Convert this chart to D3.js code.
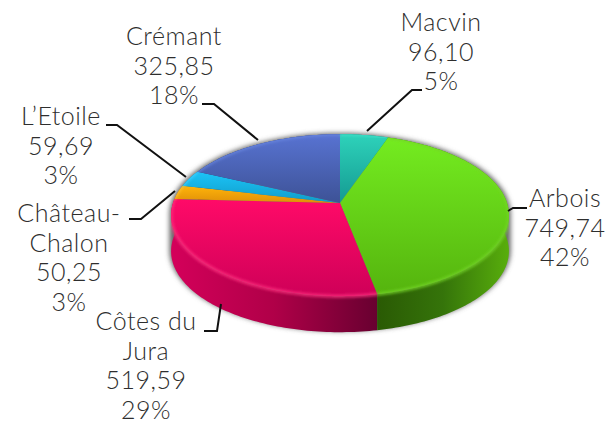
<!DOCTYPE html>
<html>
<head>
<meta charset="utf-8">
<script src="https://cdn.jsdelivr.net/npm/d3@7"></script>
<style>
  html, body { margin: 0; padding: 0; background: #fff; }
  svg { display: block; }
  text { font-family: "Lato", sans-serif; font-size: 25px; font-weight: 300; letter-spacing: 0.5px; fill: #2e2e2e; text-anchor: middle; }
</style>
</head>
<body>
<div id="chart"></div>
<script>
// values, clockwise from 12 o'clock
const names = ["Macvin", "Arbois", "Côtes du Jura", "Château-Chalon", "L'Etoile", "Crémant"];
const values = [96.10, 749.74, 519.59, 50.25, 59.69, 325.85];
const valueLabels = ["96,10", "749,74", "519,59", "50,25", "59,69", "325,85"];
const percentLabels = ["5%", "42%", "29%", "3%", "3%", "18%"];
const nameLines = [["Macvin"], ["Arbois"], ["Côtes du", "Jura"], ["Château-", "Chalon"], ["L’Etoile"], ["Crémant"]];

// colours per slice: top face from/to, side wall stops
const faceTop = ["#2ed2ba", "#74ec20", "#ff0a68", "#ffb40a", "#1cc4f8", "#5873d2"];
const faceBottom = ["#149a92", "#55b40e", "#cf0058", "#e09008", "#109cc8", "#3d5296"];
const rimColor = ["#40e0c8", "#74d628", "#ff3080", "#ffc030", "#40d0ff", "#6a88e0"];
const wallStops = [
    ["#0e7a72", "#0e7a72"],
    ["#2a5a04", "#35740a", "#58ae0c"],
    ["#d4005a", "#b00048", "#680030"],
    ["#b07006", "#b07006"],
    ["#0c7aa0", "#0c7aa0"],
    ["#2c3c70", "#2c3c70"]
];

// label layout: centre x, first baseline, leader line
const labelX = [441, 565, 146, 69, 61, 174];
const labelY = [31, 207, 330, 222, 125, 45];
const leaders = [
    [[422, 90], [412, 90], [367, 131]],
    [[527, 208], [513, 208], [508, 211]],
    [[204, 331], [217, 331], [221, 304]],
    [[129, 219], [141, 219], [175, 191]],
    [[106, 125], [117, 125], [186, 177]],
    [[202, 104], [214, 104], [258, 140]]
];

const width = 607, height = 421;
const cx = 340, apexY = 203, depth = 36;
const scaleX = 167, scaleY = 79.2, persp = 0.15;

const svg = d3.select("#chart").append("svg")
    .attr("width", width)
    .attr("height", height);
const defs = svg.append("defs");

// disc point -> screen, with a bit of perspective so the centre sits above the ellipse middle
function project(angle, r) {
    const u = r * Math.sin(angle), v = r * Math.cos(angle);
    const w = 1 + persp * v;
    return [cx + scaleX * u / w, apexY - scaleY * v / w];
}

function arcPoints(a0, a1) {
    const n = Math.max(2, Math.ceil((a1 - a0) / 0.02));
    return d3.range(n + 1).map(i => project(a0 + (a1 - a0) * i / n, 1));
}

const line = d3.line();
const down = p => [p[0], p[1] + depth];

const slices = d3.pie().sort(null).value(d => d)(values);

slices.forEach((s, i) => {
    // default bounding box units, each slice shades over its own height
    const face = defs.append("linearGradient")
        .attr("id", "face" + i)
        .attr("x1", 0).attr("x2", 0)
        .attr("y1", 0).attr("y2", 1);
    face.append("stop").attr("offset", 0).attr("stop-color", faceTop[i]);
    face.append("stop").attr("offset", 1).attr("stop-color", faceBottom[i]);

    const pts = arcPoints(s.startAngle, s.endAngle);
    const xs = d3.extent(pts, p => p[0]);
    const wall = defs.append("linearGradient")
        .attr("id", "wall" + i)
        .attr("gradientUnits", "userSpaceOnUse")
        .attr("x1", xs[0]).attr("x2", xs[1])
        .attr("y1", 0).attr("y2", 0);
    wallStops[i].forEach((c, j) => {
        wall.append("stop")
            .attr("offset", j / (wallStops[i].length - 1))
            .attr("stop-color", c);
    });
});

const blur = defs.append("filter").attr("id", "soft")
    .attr("x", "-10%").attr("y", "-10%").attr("width", "120%").attr("height", "120%");
blur.append("feGaussianBlur").attr("stdDeviation", 2.5);
const rimBlur = defs.append("filter").attr("id", "rimSoft")
    .attr("x", "-10%").attr("y", "-10%").attr("width", "120%").attr("height", "120%");
rimBlur.append("feGaussianBlur").attr("stdDeviation", 1.6);

// whole outline of the pie, used for shadow and clip
const rim = arcPoints(0, 2 * Math.PI);
const lowest = rim.map(down);
const hull = d3.polygonHull(rim.concat(lowest));

defs.append("clipPath").attr("id", "pieClip")
    .append("path").attr("d", line(hull) + "Z");

svg.append("path")
    .attr("d", line(hull.map(p => [cx + (p[0] - cx) * 1.01, p[1] - 1])) + "Z")
    .attr("fill", "#666")
    .attr("filter", "url(#soft)");

// side walls, back to front
const wallOrder = [0, 5, 4, 3, 2, 1];
svg.append("g").selectAll("path")
    .data(wallOrder)
    .join("path")
    .attr("d", i => {
        const pts = arcPoints(slices[i].startAngle, slices[i].endAngle);
        return line(pts.concat(pts.map(down).reverse())) + "Z";
    })
    .attr("fill", i => "url(#wall" + i + ")");

// top faces
svg.append("g").selectAll("path")
    .data(slices)
    .join("path")
    .attr("d", s => line([[cx, apexY]].concat(arcPoints(s.startAngle, s.endAngle))) + "Z")
    .attr("fill", (s, i) => "url(#face" + i + ")");

// soft lit edge between face and wall
svg.append("g").attr("clip-path", "url(#pieClip)").selectAll("path")
    .data(slices)
    .join("path")
    .attr("d", s => line(arcPoints(s.startAngle, s.endAngle)))
    .attr("fill", "none")
    .attr("stroke", (s, i) => rimColor[i])
    .attr("stroke-width", 2.5)
    .attr("filter", "url(#rimSoft)");

// leader lines
svg.append("g").selectAll("path")
    .data(leaders)
    .join("path")
    .attr("d", d => line(d))
    .attr("fill", "none")
    .attr("stroke", "#111")
    .attr("stroke-width", 2);

// labels
const labels = svg.append("g").selectAll("text")
    .data(names)
    .join("text")
    .attr("y", (d, i) => labelY[i]);

labels.each(function(d, i) {
    const rows = nameLines[i].concat([valueLabels[i], percentLabels[i]]);
    d3.select(this).selectAll("tspan")
        .data(rows)
        .join("tspan")
        .attr("x", labelX[i])
        .attr("dy", (r, j) => j === 0 ? 0 : 29.6)
        .text(r => r);
});
</script>
</body>
</html>
